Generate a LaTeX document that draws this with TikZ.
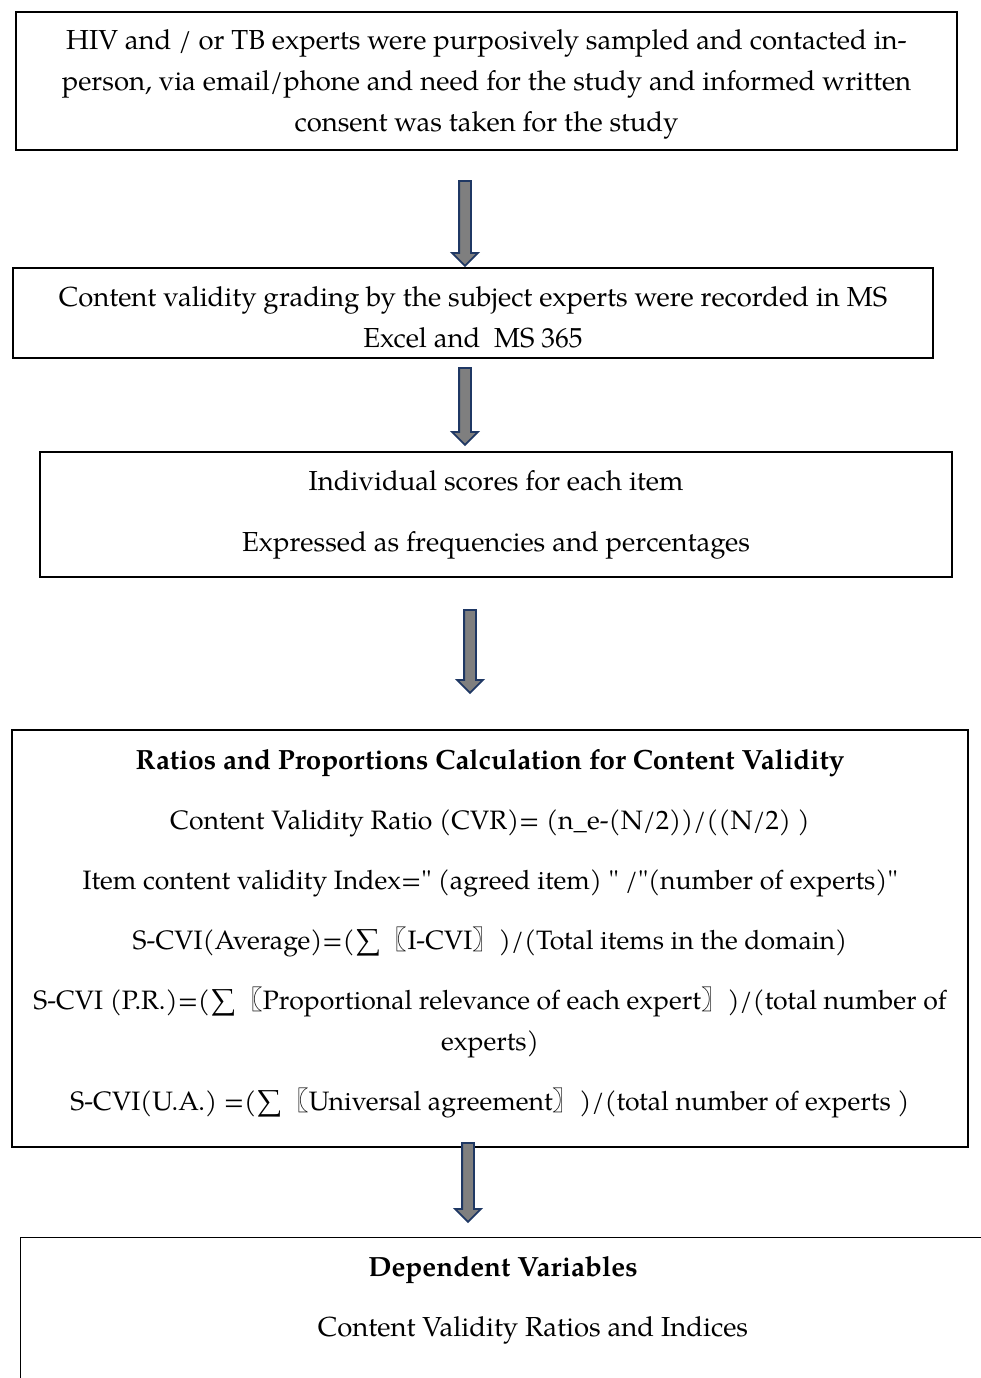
\documentclass[tikz,border=0pt]{standalone}
\usepackage{fontspec}
\setmainfont{TeX Gyre Pagella}[Ligatures=TeXOff]
\newfontfamily\cjk{Noto Sans CJK SC}
\usetikzlibrary{shapes.arrows}
\definecolor{arrownavy}{HTML}{1F3864}
\definecolor{arrowgray}{HTML}{7F7F7F}
\newcommand{\lbrk}{{\cjk 〖}}
\newcommand{\rbrk}{{\cjk 〗}}
\tikzset{
    flow chart/.style = {x=1pt, y=-1pt, font=\fontsize{27.5}{41}\selectfont},
    box/.style        = {draw, line width=1.3pt, align=center, inner sep=0pt},
    flow arrow/.style = {single arrow, draw=arrownavy, fill=arrowgray,
                         line width=1.8pt, rotate=-90, anchor=tail,
                         inner sep=0pt, inner ysep=5pt, minimum width=0pt,
                         single arrow head extend=7pt,
                         single arrow tip angle=90},
    head/.style       = {font=\fontsize{27.8}{41}\selectfont\bfseries},
    formula/.style    = {font=\fontsize{26.6}{41}\selectfont}
}

\begin{document}
\begin{tikzpicture}[flow chart]
\useasboundingbox (0,0) rectangle (980,1378);

% ================= Sampling and consent =================
\node[box, minimum width=941pt, minimum height=138pt] (consent) at (486.5, 81)
    {\rule{0pt}{27pt}HIV and / or TB experts were purposively sampled and contacted in-\\
     person, via email/phone and need for the study and informed written\\
     consent was taken for the study};

% ================= Recording of grades =================
\node[box, minimum width=920pt, minimum height=90pt] (record) at (473, 313)
    {\rule{0pt}{28pt}Content validity grading by the subject experts were recorded in MS\\
     Excel and\ \ MS 365};

% ================= Item scores =================
\node[box, minimum width=912pt, minimum height=125pt] (scores) at (496, 514.5)
    {Individual scores for each item\\[20pt]
     Expressed as frequencies and percentages};

% ================= Ratio and index calculation =================
\node[box, formula, minimum width=956pt, minimum height=417pt] (calc) at (490, 938.5)
    {{\bfseries\fontsize{27.8}{41}\selectfont Ratios and Proportions Calculation for Content Validity}\\[19pt]
     Content Validity Ratio (CVR)= (n\_e-(N/2))/((N/2) )\\[19pt]
     Item content validity Index=" (agreed item) " /"(number of experts)"\\[19pt]
     S-CVI(Average)=(∑\lbrk I-CVI\rbrk)/(Total items in the domain)\\[19pt]
     S-CVI (P.R.)=(∑\lbrk Proportional relevance of each expert\rbrk)/(total number of\\
     experts)\\[19pt]
     S-CVI(U.A.) =(∑\lbrk Universal agreement\rbrk)/(total number of experts )\rule[-18pt]{0pt}{0pt}};

% ================= Outcome =================
\node[box, minimum width=966pt, minimum height=170pt, anchor=north west]
    (outcome) at (20, 1237) {};
\node[head] (outhead) at (503, 1270) {Dependent Variables};
\node (outtext) at (533, 1330) {Content Validity Ratios and Indices};

% ================= Block arrows =================
\node[flow arrow, minimum height=85pt] (step1) at (465, 180) {};
\node[flow arrow, minimum height=77pt] (step2) at (465, 367) {};
\node[flow arrow, minimum height=83pt] (step3) at (470, 609) {};
\node[flow arrow, minimum height=79pt] (step4) at (468, 1142) {};

\end{tikzpicture}
\end{document}
